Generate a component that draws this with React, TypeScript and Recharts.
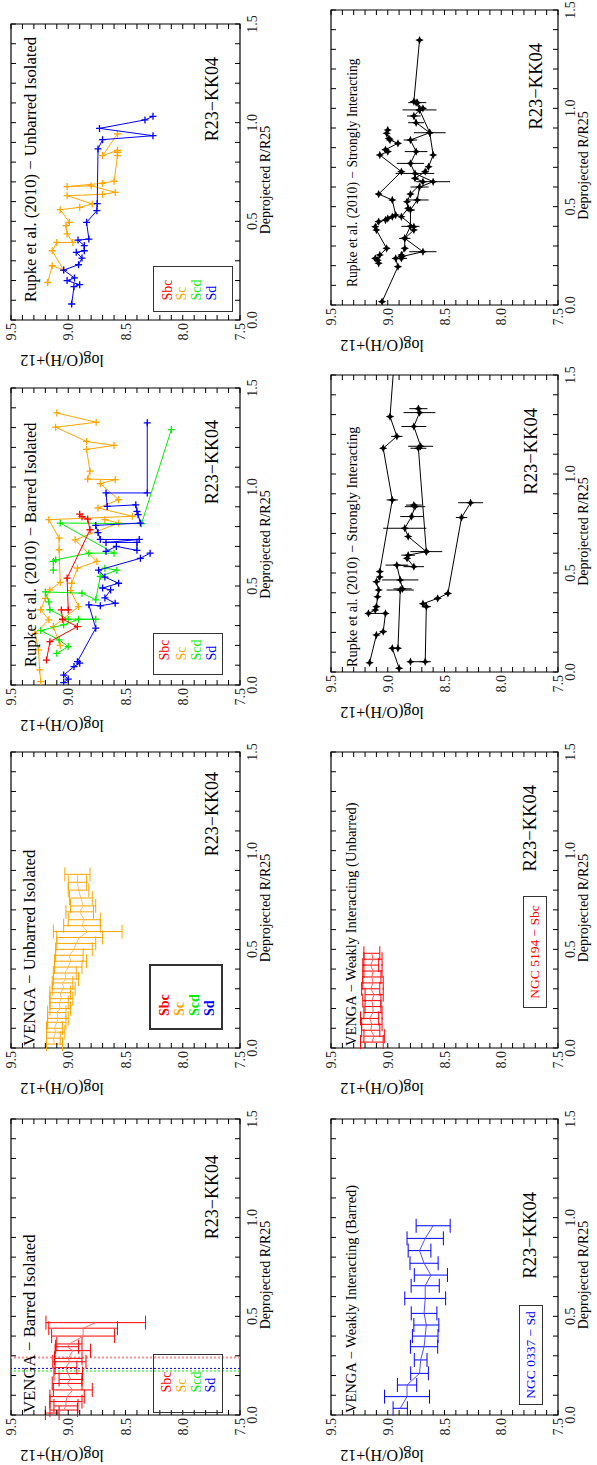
import React from "react";
import {
  ScatterChart,
  Scatter,
  XAxis,
  YAxis,
  ErrorBar,
  ReferenceArea,
  ReferenceLine,
} from "recharts";

const SERIF = "'Liberation Serif', 'Times New Roman', Times, serif";
const RED = "#ff0000";
const ORANGE = "#ffa500";
const GREEN = "#00ee00";
const BLUE = "#0000ff";
const BLACK = "#000000";

// axis ticks (minor every 0.1, labels on the majors)
const R_TICKS = [0, 0.1, 0.2, 0.3, 0.4, 0.5, 0.6, 0.7, 0.8, 0.9, 1.0, 1.1, 1.2, 1.3, 1.4, 1.5];
const R_LABELS = [0, 0.5, 1.0, 1.5];
const OH_TICKS = [
  7.5, 7.6, 7.7, 7.8, 7.9, 8.0, 8.1, 8.2, 8.3, 8.4, 8.5, 8.6, 8.7, 8.8, 8.9, 9.0, 9.1,
  9.2, 9.3, 9.4, 9.5,
];
const OH_LABELS = [7.5, 8.0, 8.5, 9.0, 9.5];

const LEGEND_LABELS = ["Sbc", "Sc", "Scd", "Sd"];
const LEGEND_COLORS = [RED, ORANGE, GREEN, BLUE];

// [R/R25, log(O/H)+12, error]
type Row = [number, number, number?];

// VENGA - barred isolated (Sbc)
const VB_SBC: Row[] = [
  [0.01, 9.14, 0.06], [0.025, 9.04, 0.12], [0.046, 9.02, 0.105], [0.068, 9.02, 0.14],
  [0.093, 9.01, 0.15], [0.127, 8.96, 0.17], [0.16, 9.01, 0.13], [0.18, 8.98, 0.1],
  [0.21, 9.0, 0.125], [0.24, 9.02, 0.095], [0.27, 8.99, 0.145], [0.287, 9.0, 0.12],
  [0.326, 8.96, 0.155], [0.346, 9.01, 0.1], [0.36, 8.99, 0.11], [0.4, 8.87, 0.275],
  [0.44, 8.87, 0.3], [0.468, 8.76, 0.435],
];

// VENGA - unbarred isolated (Sc)
const VU_SC: Row[] = [
  [0.02, 9.12, 0.07], [0.05, 9.13, 0.06], [0.08, 9.11, 0.08], [0.1, 9.12, 0.07],
  [0.13, 9.1, 0.08], [0.15, 9.09, 0.09], [0.18, 9.1, 0.08], [0.2, 9.07, 0.09],
  [0.23, 9.08, 0.08], [0.25, 9.06, 0.1], [0.28, 9.07, 0.09], [0.3, 9.04, 0.1],
  [0.33, 9.05, 0.09], [0.35, 9.02, 0.11], [0.38, 9.03, 0.1], [0.41, 9.0, 0.12],
  [0.44, 8.98, 0.14], [0.47, 8.99, 0.12], [0.5, 8.95, 0.16], [0.53, 8.93, 0.17],
  [0.56, 8.9, 0.2], [0.59, 8.83, 0.3], [0.62, 8.88, 0.16], [0.65, 8.86, 0.14],
  [0.69, 8.9, 0.12], [0.72, 8.87, 0.11], [0.76, 8.89, 0.1], [0.8, 8.91, 0.09],
  [0.84, 8.92, 0.08], [0.88, 8.92, 0.11],
];

// Rupke et al. (2010) - barred isolated
const RB_SBC: Row[] = [
  [0.126, 9.19], [0.219, 9.16], [0.295, 8.92], [0.332, 9.05], [0.379, 9.06], [0.379, 9.0],
  [0.54, 9.01], [0.784, 8.81], [0.838, 8.83], [0.85, 8.88], [0.863, 8.9],
];
const RB_SC_A: Row[] = [
  [0.017, 9.24], [0.076, 9.25], [0.177, 9.26], [0.261, 9.29], [0.329, 9.17], [0.38, 9.24],
  [0.438, 9.2], [0.48, 9.16], [0.518, 9.07], [0.683, 9.08], [0.742, 9.08], [0.835, 9.17],
  [0.852, 8.44], [0.894, 8.74], [0.936, 8.56], [1.017, 8.72], [1.037, 8.59], [1.04, 8.83],
  [1.08, 8.81], [1.19, 8.84], [1.21, 8.6], [1.23, 8.84], [1.302, 9.11], [1.327, 8.756],
  [1.374, 9.1],
];
const RB_SC_B: Row[] = [
  [0.2, 9.07], [0.295, 9.13], [0.396, 8.91], [0.477, 8.98], [0.514, 8.97], [0.59, 8.92],
  [0.624, 8.75], [0.733, 8.94], [0.818, 8.56], [0.835, 8.68],
];
const RB_SCD_A: Row[] = [
  [0.16, 9.1], [0.194, 9.0], [0.228, 9.08], [0.275, 9.24], [0.304, 9.04], [0.332, 8.91],
  [0.332, 8.76], [0.332, 9.0], [0.38, 9.16], [0.42, 9.17], [0.47, 9.2], [0.464, 8.88],
  [0.43, 8.76], [0.548, 8.72], [0.58, 8.575], [0.59, 8.68],
];
const RB_SCD_B: Row[] = [
  [0.58, 9.13], [0.624, 9.13], [0.632, 9.11], [0.666, 8.82], [0.666, 8.6], [0.818, 9.07],
  [0.815, 8.36], [1.29, 8.1],
];
const RB_SD_A: Row[] = [
  [0.012, 9.04], [0.03, 9.0], [0.05, 9.04], [0.093, 8.95], [0.11, 8.9], [0.118, 8.92],
  [0.287, 8.76], [0.405, 8.82], [0.4, 8.72], [0.413, 8.59], [0.44, 8.68], [0.48, 8.63],
  [0.49, 8.7], [0.514, 8.56], [0.545, 8.68], [0.58, 8.735], [0.64, 8.37], [0.666, 8.285],
];
const RB_SD_B: Row[] = [
  [0.675, 8.67], [0.7, 8.58], [0.68, 8.4], [0.72, 8.4], [0.72, 8.67], [0.735, 8.38],
  [0.735, 8.72], [0.77, 8.74], [0.806, 8.76], [0.818, 8.37], [0.86, 8.39], [0.877, 8.4],
  [0.91, 8.41], [0.902, 8.66], [0.97, 8.67], [0.97, 8.31], [1.324, 8.31],
];

// Rupke et al. (2010) - unbarred isolated
const RU_SC: Row[] = [
  [0.19, 9.18], [0.275, 9.14], [0.253, 9.04], [0.351, 9.14], [0.393, 9.1], [0.393, 8.96],
  [0.436, 9.01], [0.478, 9.02], [0.495, 8.99], [0.559, 9.07], [0.571, 8.9], [0.588, 8.79],
  [0.63, 9.01], [0.637, 8.7], [0.647, 8.59], [0.68, 8.8], [0.676, 9.01], [0.693, 8.7],
  [0.703, 8.6], [0.833, 8.57], [0.85, 8.57], [0.86, 8.57], [0.833, 8.7], [0.943, 8.57],
];
const RU_SD: Row[] = [
  [0.081, 8.97], [0.169, 8.95], [0.179, 8.9], [0.2, 9.01], [0.213, 8.945], [0.253, 9.04],
  [0.28, 8.91], [0.314, 8.88], [0.343, 8.93], [0.351, 8.86], [0.377, 8.86], [0.405, 8.915],
  [0.41, 8.82], [0.495, 8.84], [0.554, 8.75], [0.59, 8.747], [0.867, 8.74], [0.914, 8.7],
  [0.934, 8.26], [0.971, 8.727], [1.014, 8.33], [1.032, 8.26],
];

// VENGA - weakly interacting
const VW_SD: Row[] = [
  [0.034, 8.89, 0.063], [0.093, 8.83, 0.198], [0.152, 8.83, 0.085], [0.211, 8.72, 0.078],
  [0.279, 8.71, 0.056], [0.346, 8.68, 0.12], [0.4, 8.67, 0.113], [0.456, 8.66, 0.11],
  [0.515, 8.68, 0.113], [0.591, 8.67, 0.18], [0.655, 8.67, 0.124], [0.709, 8.62, 0.146],
  [0.769, 8.68, 0.124], [0.833, 8.72, 0.1], [0.895, 8.67, 0.16], [0.959, 8.6, 0.15],
];
const VW_SBC: Row[] = [
  [0.03, 9.14, 0.1], [0.06, 9.12, 0.09], [0.09, 9.15, 0.08], [0.12, 9.14, 0.09],
  [0.15, 9.16, 0.08], [0.18, 9.13, 0.08], [0.21, 9.13, 0.07], [0.24, 9.14, 0.08],
  [0.27, 9.12, 0.08], [0.3, 9.15, 0.08], [0.33, 9.13, 0.09], [0.36, 9.14, 0.08],
  [0.39, 9.13, 0.08], [0.42, 9.15, 0.07], [0.45, 9.13, 0.08], [0.48, 9.14, 0.07],
];

// Rupke et al. (2010) - strongly interacting (lower panel)
const RS1_A: Row[] = [
  [0.047, 9.16], [0.187, 9.1], [0.204, 9.04], [0.296, 9.02], [0.296, 9.17], [0.313, 9.11],
  [0.33, 9.1], [0.38, 9.09], [0.414, 9.08], [0.456, 9.1], [0.48, 9.07], [0.507, 9.07],
  [0.869, 8.96, 0.05], [1.13, 9.04], [1.19, 8.92, 0.05], [1.29, 8.98], [1.52, 8.95],
];
const RS1_B: Row[] = [
  [0.019, 8.9], [0.12, 8.96], [0.12, 8.91], [0.414, 8.89, 0.12], [0.42, 8.87, 0.08],
  [0.465, 8.89, 0.16], [0.54, 8.92, 0.1], [0.532, 8.77, 0.09], [0.574, 8.83],
  [0.59, 8.82, 0.06], [0.608, 8.66, 0.14], [0.684, 8.82], [0.726, 8.85, 0.19],
  [0.785, 8.79, 0.1], [0.835, 8.76, 0.09], [0.843, 8.77, 0.07],
];
const RS1_C: Row[] = [
  [0.052, 8.8], [0.052, 8.67, 0.05], [0.33, 8.66, 0.04], [0.345, 8.69], [0.372, 8.56],
  [0.397, 8.47], [0.78, 8.35, 0.05], [0.855, 8.27, 0.11],
];
const RS1_D: Row[] = [
  [0.608, 8.66], [1.13, 8.73, 0.07], [1.14, 8.71, 0.11], [1.24, 8.77, 0.11],
  [1.31, 8.72, 0.14], [1.33, 8.73, 0.08],
];

// Rupke et al. (2010) - strongly interacting (upper panel)
const RS2_A: Row[] = [
  [0.017, 9.05], [0.195, 8.91], [0.237, 8.93], [0.254, 8.88], [0.288, 8.85], [0.339, 8.85],
  [0.381, 8.77], [0.398, 8.77], [0.449, 8.88], [0.492, 8.82], [0.525, 8.83], [0.564, 8.8],
  [0.627, 8.69], [0.644, 8.76], [0.678, 8.67], [0.703, 8.64], [0.763, 8.6], [0.876, 8.63],
  [0.992, 8.72], [1.0, 8.69], [1.029, 8.75], [1.034, 8.77], [1.347, 8.72],
];
const RS2_B: Row[] = [
  [0.212, 9.08], [0.237, 9.11], [0.228, 9.09], [0.254, 9.07], [0.288, 9.01], [0.381, 9.1],
  [0.398, 9.11], [0.424, 9.08], [0.432, 9.02], [0.44, 9.0], [0.449, 8.96], [0.458, 8.93],
  [0.534, 8.96], [0.564, 9.08], [0.678, 8.88], [0.763, 9.07], [0.78, 9.0], [0.79, 9.02],
  [0.822, 8.91], [0.839, 8.98], [0.847, 8.99], [0.873, 9.01], [0.89, 9.0],
];
const RS2_C: Row[] = [
  [0.237, 8.88, 0.05], [0.246, 8.876], [0.271, 8.69, 0.12], [0.339, 8.85, 0.05],
  [0.4, 8.8, 0.08], [0.483, 8.8, 0.04], [0.534, 8.74, 0.1], [0.6, 8.72, 0.08],
  [0.627, 8.6, 0.15], [0.669, 8.76, 0.17], [0.72, 8.8, 0.12], [0.78, 8.75, 0.1],
  [0.839, 8.8, 0.06], [0.876, 8.63, 0.14], [0.927, 8.75, 0.07], [0.961, 8.77, 0.06],
  [0.992, 8.72, 0.15], [1.029, 8.74, 0.08],
];

type Pt = { r: number; oh: number; e: number };
const toPts = (rows: Row[]): Pt[] => rows.map(([r, oh, e]) => ({ r, oh, e: e ?? 0 }));

type Marker = "plus" | "star" | "none";
interface SeriesDef {
  rows: Row[];
  color: string;
  marker: Marker;
  cap?: number;
  lineColor?: string;
}

const ML = 64;
const MR = 8;
const MT = 8;
const MB = 44;

const plusShape = (color: string) => (p: any) =>
  p.cx == null ? (
    <g />
  ) : (
    <path
      d={`M${p.cx - 3.5},${p.cy}H${p.cx + 3.5}M${p.cx},${p.cy - 3.5}V${p.cy + 3.5}`}
      stroke={color}
      strokeWidth={1.3}
      fill="none"
    />
  );

const starShape = (p: any) => {
  if (p.cx == null) return <g />;
  const { cx, cy } = p;
  const a = 4.2;
  const b = 1.3;
  return (
    <path
      d={`M${cx},${cy - a}L${cx + b},${cy - b}L${cx + a},${cy}L${cx + b},${cy + b}L${cx},${cy + a}L${cx - b},${cy + b}L${cx - a},${cy}L${cx - b},${cy - b}Z`}
      fill={BLACK}
    />
  );
};

const noShape = () => <g />;

function shapeFor(s: SeriesDef) {
  if (s.marker === "plus") return plusShape(s.color);
  if (s.marker === "star") return starShape;
  return noShape;
}

const near = (list: number[], v: number) => list.some((t) => Math.abs(t - v) < 1e-6);

const makeRTick = (top: number, bottom: number) => (props: any) => {
  const { x, payload } = props;
  const v = payload.value as number;
  return (
    <g>
      <line x1={x} x2={x} y1={bottom} y2={bottom - 5} stroke="#000" />
      <line x1={x} x2={x} y1={top} y2={top + 5} stroke="#000" />
      {near(R_LABELS, v) && (
        <text x={x} y={bottom + 17} textAnchor="middle" fontSize={14} fontFamily={SERIF} fill="#222">
          {v.toFixed(1)}
        </text>
      )}
    </g>
  );
};

const makeOHTick = (left: number, right: number) => (props: any) => {
  const { y, payload } = props;
  const v = payload.value as number;
  return (
    <g>
      <line x1={left} x2={left + 5} y1={y} y2={y} stroke="#000" />
      <line x1={right} x2={right - 5} y1={y} y2={y} stroke="#000" />
      {near(OH_LABELS, v) && (
        <text x={left - 3} y={y + 5} textAnchor="end" fontSize={14} fontFamily={SERIF} fill="#222">
          {v.toFixed(1)}
        </text>
      )}
    </g>
  );
};

// text placed by its baseline, relative to the plot's top-left corner
function Txt({
  x,
  y,
  size,
  color = "#000",
  anchor = "start",
  bold = false,
  children,
}: {
  x: number;
  y: number;
  size: number;
  color?: string;
  anchor?: "start" | "middle" | "end";
  bold?: boolean;
  children: React.ReactNode;
}) {
  const shift = anchor === "middle" ? "-50%" : anchor === "end" ? "-100%" : "0";
  return (
    <div
      style={{
        position: "absolute",
        left: ML + x,
        top: MT + y - 0.84 * size,
        fontSize: size,
        lineHeight: `${size}px`,
        color,
        fontWeight: bold ? 700 : 400,
        whiteSpace: "nowrap",
        transform: `translateX(${shift})`,
        fontFamily: SERIF,
      }}
    >
      {children}
    </div>
  );
}

function LegendBox({
  x,
  y,
  w,
  h,
  textX,
  baselines,
  size = 14,
  bold = false,
  border = 1.5,
}: {
  x: number;
  y: number;
  w: number;
  h: number;
  textX: number;
  baselines: number[];
  size?: number;
  bold?: boolean;
  border?: number;
}) {
  return (
    <div
      style={{
        position: "absolute",
        left: ML + x,
        top: MT + y,
        width: w,
        height: h,
        border: `${border}px solid #333`,
        boxSizing: "border-box",
      }}
    >
      {LEGEND_LABELS.map((lab, i) => (
        <div
          key={lab}
          style={{
            position: "absolute",
            left: textX - border,
            top: baselines[i] - 0.84 * size - border,
            fontSize: size,
            lineHeight: `${size}px`,
            color: LEGEND_COLORS[i],
            fontWeight: bold ? 700 : 400,
            fontFamily: SERIF,
            whiteSpace: "nowrap",
          }}
        >
          {lab}
        </div>
      ))}
    </div>
  );
}

function NameBox({ x, y, w, h, color, size, children }: any) {
  return (
    <div
      style={{
        position: "absolute",
        left: ML + x,
        top: MT + y,
        width: w,
        height: h,
        border: "1.5px solid #333",
        boxSizing: "border-box",
        color,
        fontSize: size,
        lineHeight: `${h - 3}px`,
        textAlign: "center",
        fontFamily: SERIF,
        whiteSpace: "nowrap",
      }}
    >
      {children}
    </div>
  );
}

interface PanelProps {
  x: number;
  y: number;
  w: number;
  h: number;
  series: SeriesDef[];
  refLines?: { r: number; color: string; width: number }[];
  children?: React.ReactNode;
}

function Panel({ x, y, w, h, series, refLines = [], children }: PanelProps) {
  const top = MT;
  const bottom = MT + h;
  const left = ML;
  const right = ML + w;
  return (
    <div
      style={{
        position: "absolute",
        left: x - ML,
        top: y - MT,
        width: ML + w + MR,
        height: MT + h + MB,
      }}
    >
      <ScatterChart
        width={ML + w + MR}
        height={MT + h + MB}
        margin={{ top: MT, right: MR, bottom: 0, left: 0 }}
      >
        <XAxis
          type="number"
          dataKey="r"
          domain={[0, 1.5]}
          ticks={R_TICKS}
          interval={0}
          height={MB}
          axisLine={false}
          tickLine={false}
          allowDataOverflow
          tick={makeRTick(top, bottom)}
        />
        <YAxis
          type="number"
          dataKey="oh"
          domain={[7.5, 9.5]}
          ticks={OH_TICKS}
          interval={0}
          width={ML}
          axisLine={false}
          tickLine={false}
          allowDataOverflow
          tick={makeOHTick(left, right)}
        />
        <ReferenceArea
          x1={0}
          x2={1.5}
          y1={7.5}
          y2={9.5}
          fill="none"
          fillOpacity={0}
          stroke="#000"
          strokeWidth={1.2}
          ifOverflow="visible"
        />
        {refLines.map((l, i) => (
          <ReferenceLine
            key={i}
            x={l.r}
            stroke={l.color}
            strokeWidth={l.width}
            strokeDasharray="2 2"
            ifOverflow="visible"
          />
        ))}
        {series.map((s, i) => (
          <Scatter
            key={i}
            data={toPts(s.rows)}
            fill={s.color}
            line={{ stroke: s.lineColor ?? s.color, strokeWidth: 1 }}
            lineType="joint"
            shape={shapeFor(s)}
            isAnimationActive={false}
          >
            <ErrorBar
              dataKey="e"
              direction="y"
              width={s.cap ?? 0}
              stroke={s.color}
              strokeWidth={1}
            />
          </Scatter>
        ))}
      </ScatterChart>
      <Txt x={w * 0.473} y={h + 31} size={14} anchor="middle">
        Deprojected R/R25
      </Txt>
      <div
        style={{
          position: "absolute",
          left: ML - 40,
          top: MT + 51,
          transform: "translate(-50%, -50%) rotate(-90deg)",
          fontSize: 16,
          lineHeight: "16px",
          fontFamily: SERIF,
          whiteSpace: "nowrap",
        }}
      >
        log(O/H)+12
      </div>
      {children}
    </div>
  );
}

const TOP_Y = 11;
const TOP_H = 229;
const BOT_Y = 331;
const BOT_H = 227;

export default function App() {
  return (
    <div
      style={{
        position: "absolute",
        left: 0,
        top: 0,
        width: 597,
        height: 1465,
        overflow: "hidden",
        background: "#fff",
      }}
    >
      <div
        style={{
          position: "absolute",
          left: 0,
          top: 0,
          width: 1465,
          height: 597,
          transformOrigin: "0 0",
          transform: "translate(0px, 1465px) rotate(-90deg)",
          fontFamily: SERIF,
        }}
      >
        {/* VENGA - Barred Isolated */}
        <Panel
          x={50}
          y={TOP_Y}
          w={296}
          h={TOP_H}
          series={[{ rows: VB_SBC, color: RED, marker: "none", cap: 7, lineColor: "#ff7070" }]}
          refLines={[
            { r: 0.292, color: "#ff9090", width: 2 },
            { r: 0.236, color: BLUE, width: 1 },
            { r: 0.223, color: GREEN, width: 1 },
          ]}
        >
          <Txt x={2} y={25} size={16.8}>VENGA − Barred Isolated</Txt>
          <Txt x={296 - 36} y={207} size={18} anchor="end">R23−KK04</Txt>
          <LegendBox x={2} y={142} w={59} h={70} textX={21} baselines={[19, 34, 49, 63]} />
        </Panel>

        {/* VENGA - Unbarred Isolated */}
        <Panel
          x={417}
          y={TOP_Y}
          w={296}
          h={TOP_H}
          series={[{ rows: VU_SC, color: ORANGE, marker: "none", cap: 7, lineColor: "#ffc060" }]}
        >
          <Txt x={2} y={25} size={16.8}>VENGA − Unbarred Isolated</Txt>
          <Txt x={296 - 20} y={207} size={18} anchor="end">R23−KK04</Txt>
          <LegendBox
            x={18}
            y={138}
            w={66}
            h={74}
            textX={14}
            baselines={[21, 36, 51, 66]}
            bold
            border={2}
          />
        </Panel>

        {/* Rupke - Barred Isolated */}
        <Panel
          x={780}
          y={TOP_Y}
          w={297}
          h={TOP_H}
          series={[
            { rows: RB_SC_A, color: ORANGE, marker: "plus" },
            { rows: RB_SC_B, color: ORANGE, marker: "plus" },
            { rows: RB_SCD_A, color: GREEN, marker: "plus" },
            { rows: RB_SCD_B, color: GREEN, marker: "plus" },
            { rows: RB_SD_A, color: BLUE, marker: "plus" },
            { rows: RB_SD_B, color: BLUE, marker: "plus" },
            { rows: RB_SBC, color: RED, marker: "plus" },
          ]}
        >
          <Txt x={18} y={26} size={16.4}>Rupke et al. (2010) − Barred Isolated</Txt>
          <Txt x={297 - 32} y={207} size={18} anchor="end">R23−KK04</Txt>
          <LegendBox x={10} y={142} w={42} h={70} textX={15} baselines={[17, 34, 49, 64]} />
        </Panel>

        {/* Rupke - Unbarred Isolated */}
        <Panel
          x={1145}
          y={TOP_Y}
          w={296}
          h={TOP_H}
          series={[
            { rows: RU_SC, color: ORANGE, marker: "plus" },
            { rows: RU_SD, color: BLUE, marker: "plus" },
          ]}
        >
          <Txt x={18} y={26} size={16.6}>Rupke et al. (2010) − Unbarred Isolated</Txt>
          <Txt x={296 - 33} y={207} size={18} anchor="end">R23−KK04</Txt>
          <LegendBox x={8} y={142} w={46} h={80} textX={12} baselines={[20, 34, 49, 64]} />
        </Panel>

        {/* VENGA - Weakly Interacting (Barred) */}
        <Panel
          x={50}
          y={BOT_Y}
          w={296}
          h={BOT_H}
          series={[{ rows: VW_SD, color: BLUE, marker: "none", cap: 7, lineColor: "#5050ff" }]}
        >
          <Txt x={2} y={25} size={14.5}>VENGA − Weakly Interacting (Barred)</Txt>
          <Txt x={296 - 73} y={206} size={18.5} anchor="end">R23−KK04</Txt>
          <NameBox x={10} y={188} w={100} h={24} color={BLUE} size={13.5}>
            NGC 0337 − Sd
          </NameBox>
        </Panel>

        {/* VENGA - Weakly Interacting (Unbarred) */}
        <Panel
          x={417}
          y={BOT_Y}
          w={296}
          h={BOT_H}
          series={[{ rows: VW_SBC, color: RED, marker: "none", cap: 7, lineColor: "#ff6060" }]}
        >
          <Txt x={2} y={25} size={14.5}>VENGA − Weakly Interacting (Unbarred)</Txt>
          <Txt x={296 - 33} y={206} size={18.5} anchor="end">R23−KK04</Txt>
          <NameBox x={40} y={192} w={112} h={24} color={RED} size={13.5}>
            NGC 5194 − Sbc
          </NameBox>
        </Panel>

        {/* Rupke - Strongly Interacting (lower) */}
        <Panel
          x={793}
          y={BOT_Y}
          w={297}
          h={BOT_H}
          series={[
            { rows: RS1_A, color: BLACK, marker: "star" },
            { rows: RS1_B, color: BLACK, marker: "star" },
            { rows: RS1_C, color: BLACK, marker: "star" },
            { rows: RS1_D, color: BLACK, marker: "star" },
          ]}
        >
          <Txt x={5} y={26} size={14.3}>Rupke et al. (2010) − Strongly Interacting</Txt>
          <Txt x={297 - 33} y={207} size={18.5} anchor="end">R23−KK04</Txt>
        </Panel>

        {/* Rupke - Strongly Interacting (upper) */}
        <Panel
          x={1160}
          y={BOT_Y}
          w={295}
          h={BOT_H}
          series={[
            { rows: RS2_A, color: BLACK, marker: "star" },
            { rows: RS2_B, color: BLACK, marker: "star" },
            { rows: RS2_C, color: BLACK, marker: "star" },
          ]}
        >
          <Txt x={18} y={26} size={13.6}>Rupke et al. (2010) − Strongly Interacting</Txt>
          <Txt x={295 - 33} y={212} size={18.5} anchor="end">R23−KK04</Txt>
        </Panel>
      </div>
    </div>
  );
}
